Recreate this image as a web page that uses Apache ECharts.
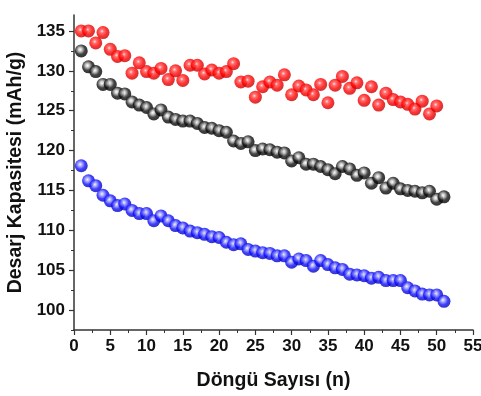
<!DOCTYPE html>
<html>
<head>
<meta charset="utf-8">
<script src="https://cdn.jsdelivr.net/npm/echarts@6/dist/echarts.min.js"></script>
<style>html,body{margin:0;padding:0;background:#fff}#c{width:481px;height:396px}</style>
</head>
<body>
<div id="c"></div>
<script>
var cycles = [];
for (var i = 1; i <= 51; i++) cycles.push(i);

var redValues = [135.0,135.0,133.5,134.8,132.7,131.8,131.9,129.7,131.0,129.9,129.7,130.3,128.9,130.0,128.8,130.7,130.7,129.6,130.1,129.7,129.9,130.9,128.6,128.7,126.7,128.0,128.6,128.2,129.5,127.0,128.1,127.6,127.0,128.3,126.0,128.2,129.3,127.8,128.5,126.3,128.0,125.7,127.2,126.4,126.1,125.8,125.2,126.2,124.6,125.6];
var blackValues = [132.5,130.5,129.9,128.3,128.3,127.2,127.1,126.1,125.7,125.4,124.6,125.1,124.2,123.9,123.7,123.7,123.4,122.9,122.8,122.5,122.3,121.2,120.9,121.1,120.0,120.2,120.1,119.8,119.7,118.7,119.1,118.3,118.3,118.0,117.6,117.1,118.0,117.7,116.9,117.2,115.9,116.6,115.3,115.9,115.2,115.0,114.9,114.7,114.9,113.9,114.2];
var blueValues = [118.1,116.2,115.6,114.4,113.7,113.1,113.3,112.5,112.1,112.1,111.2,111.8,111.2,110.6,110.3,109.9,109.7,109.5,109.2,109.1,108.5,108.2,108.3,107.6,107.4,107.2,107.1,106.8,106.8,106.0,106.4,106.2,105.5,106.2,105.7,105.3,105.1,104.5,104.4,104.3,104.0,104.1,103.7,103.7,103.7,102.8,102.4,102.0,101.9,101.9,101.1];

var yMajorTicks = [100,105,110,115,120,125,130,135];
var yMinorTicks = [97.5,102.5,107.5,112.5,117.5,122.5,127.5,132.5];

function pairs(vals){ return vals.map(function(v,i){ return [cycles[i], v]; }); }
function ball(light, mid, dark, edge){
  return {type:'radial', x:0.42, y:0.4, r:0.62,
    colorStops:[{offset:0,color:light},{offset:0.22,color:mid},{offset:0.6,color:dark},{offset:1,color:edge}]};
}
var font = 'Liberation Sans, Arial, sans-serif';
var chart = echarts.init(document.getElementById('c'), null, {renderer:'canvas'});
var axisCol = '#333';
chart.setOption({
  animation:false,
  backgroundColor:'#fff',
  grid:{left:74, right:8, top:15, bottom:66, outerBoundsMode:'none', containLabel:false},
  xAxis:{
    type:'value', min:0, max:55, interval:5,
    name:'Döngü Sayısı (n)', nameLocation:'middle', nameGap:41,
    nameTextStyle:{fontFamily:font, fontWeight:'bold', fontSize:19.5, color:'#111'},
    axisLine:{show:true, onZero:false, lineStyle:{color:axisCol, width:1.5}},
    axisTick:{show:true, inside:false, length:5, lineStyle:{color:axisCol, width:1.2}},
    minorTick:{show:true, splitNumber:2, length:3, lineStyle:{color:axisCol, width:1}},
    axisLabel:{fontFamily:font, fontWeight:'bold', fontSize:17, color:'#111', margin:8},
    splitLine:{show:false}
  },
  yAxis:[{
    type:'value', min:97.5, max:137,
    name:'Desarj Kapasitesi (mAh/g)', nameLocation:'middle', nameGap:47,
    nameTextStyle:{fontFamily:font, fontWeight:'bold', fontSize:19.5, color:'#111'},
    axisLine:{show:true, onZero:false, lineStyle:{color:axisCol, width:1.5}},
    axisTick:{show:true, inside:false, length:5, customValues:yMajorTicks, lineStyle:{color:axisCol, width:1.2}},
    axisLabel:{fontFamily:font, fontWeight:'bold', fontSize:17, color:'#111', margin:9, customValues:yMajorTicks},
    splitLine:{show:false}
  },{
    type:'value', min:97.5, max:137, position:'left',
    axisLine:{show:false},
    axisTick:{show:true, inside:false, length:3, customValues:yMinorTicks, lineStyle:{color:axisCol, width:1}},
    axisLabel:{show:false, customValues:yMinorTicks},
    splitLine:{show:false}
  }],
  series:[
    {type:'scatter', name:'red', data:pairs(redValues), symbolSize:13,
     itemStyle:{color:ball('#ffe0e0','#ff5050','#ff0000','#c00000')}},
    {type:'scatter', name:'black', data:pairs(blackValues), symbolSize:13,
     itemStyle:{color:ball('#ffffff','#c0c0c0','#141414','#000000')}},
    {type:'scatter', name:'blue', data:pairs(blueValues), symbolSize:13,
     itemStyle:{color:ball('#f0f0ff','#a0a0ff','#1010ff','#0000b0')}}
  ]
});
</script>
</body>
</html>
